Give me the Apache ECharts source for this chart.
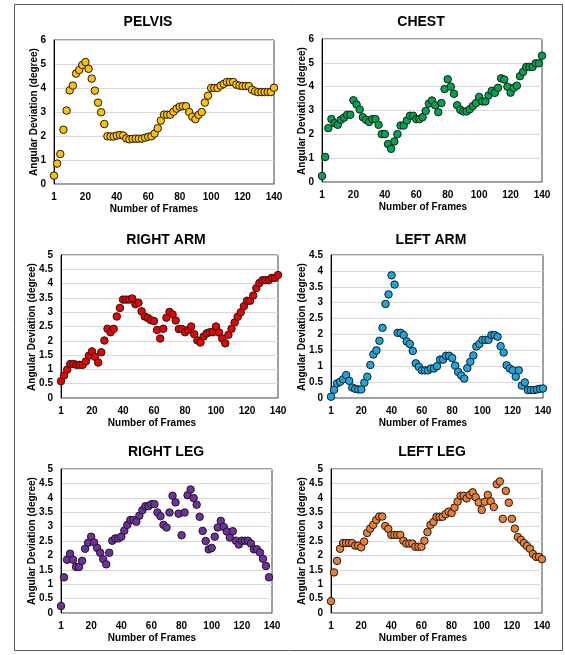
<!DOCTYPE html>
<html>
<head>
<meta charset="utf-8">
<script src="https://cdn.jsdelivr.net/npm/echarts@6/dist/echarts.min.js"></script>
<style>
  html, body { margin: 0; padding: 0; background: #fff; }
  #chart { width: 565px; height: 655px; }
</style>
</head>
<body>
<div id="chart"></div>
<script>
// Frame numbers sampled every second frame (axis origin is labelled "1")
const frames = [0,2,4,6,8,10,12,14,16,18,20,22,24,26,28,30,32,34,36,38,40,42,44,46,48,50,52,54,56,58,60,62,64,66,68,70,72,74,76,78,80,82,84,86,88,90,92,94,96,98,100,102,104,106,108,110,112,114,116,118,120,122,124,126,128,130,132,134,136,138,140];
const xTicks = [0, 20, 40, 60, 80, 100, 120, 140];

// Angular deviation (degree) per body segment
const pelvis = [0.35,0.85,1.25,2.26,3.06,3.9,4.1,4.6,4.75,4.96,5.08,4.8,4.39,3.89,3.39,2.99,2.5,1.99,1.98,1.98,2.02,2.04,2.02,1.9,1.86,1.88,1.89,1.89,1.89,1.93,1.97,1.99,2.1,2.32,2.64,2.89,2.89,2.89,3.01,3.14,3.22,3.24,3.24,3.0,2.8,2.7,2.88,3.0,3.39,3.68,4.0,4.0,4.0,4.1,4.17,4.25,4.25,4.25,4.14,4.1,4.08,4.08,4.08,3.93,3.86,3.83,3.83,3.83,3.83,3.83,4.01];
const chest = [0.25,1.05,2.26,2.64,2.47,2.4,2.61,2.7,2.82,2.82,3.43,3.25,3.04,2.72,2.61,2.52,2.64,2.64,2.4,2.01,2.01,1.59,1.39,1.7,2.01,2.37,2.37,2.58,2.78,2.78,2.64,2.64,2.72,2.98,3.29,3.42,3.22,2.93,3.31,3.9,4.31,4.0,3.7,3.22,3.03,2.96,2.96,3.05,3.19,3.31,3.57,3.38,3.38,3.63,3.82,3.74,3.95,4.35,4.3,4.0,3.75,3.95,4.04,4.44,4.62,4.83,4.83,4.83,4.98,4.98,5.3];
const rightArm = [0.59,0.79,0.99,1.19,1.19,1.16,1.16,1.16,1.28,1.48,1.63,1.44,1.24,1.6,2.01,2.42,2.3,2.42,2.85,3.15,3.44,3.44,3.44,3.48,3.28,3.33,3.03,2.85,2.8,2.72,2.69,2.38,2.08,2.42,2.81,3.01,2.92,2.71,2.41,2.41,2.3,2.38,2.5,2.23,2.01,1.94,2.15,2.26,2.3,2.3,2.5,2.29,2.08,1.91,2.21,2.42,2.64,2.84,3.0,3.21,3.4,3.4,3.58,3.84,4.02,4.12,4.12,4.12,4.2,4.2,4.3];
const leftArm = [0.04,0.26,0.46,0.51,0.59,0.72,0.54,0.33,0.29,0.27,0.27,0.48,0.67,1.04,1.37,1.5,1.8,2.21,2.96,3.26,3.86,3.57,2.05,2.05,1.98,1.78,1.7,1.48,1.09,0.98,0.87,0.87,0.87,0.93,0.93,1.0,1.21,1.21,1.33,1.33,1.26,1.02,0.82,0.71,0.61,0.94,1.14,1.34,1.62,1.7,1.83,1.83,1.83,1.98,1.98,1.93,1.63,1.43,1.03,0.93,0.87,0.67,0.87,0.39,0.49,0.25,0.25,0.25,0.27,0.29,0.3];
const rightLeg = [0.24,1.24,1.85,2.06,1.85,1.6,1.6,1.81,2.23,2.44,2.65,2.45,2.26,2.09,1.87,1.69,2.09,2.51,2.59,2.59,2.65,2.86,3.06,3.23,3.23,3.17,3.38,3.57,3.71,3.71,3.78,3.78,3.49,3.36,3.06,2.97,3.49,4.07,3.84,3.45,2.7,3.49,4.09,4.29,3.99,3.76,3.34,2.85,2.5,2.21,2.26,2.65,2.97,3.2,2.99,2.83,2.62,2.84,2.51,2.38,2.51,2.51,2.51,2.41,2.21,2.21,2.1,1.88,1.63,1.24];
const leftLeg = [0.41,1.41,1.81,2.23,2.43,2.43,2.43,2.43,2.34,2.34,2.28,2.48,2.78,2.93,3.06,3.23,3.35,3.35,3.02,2.92,2.71,2.71,2.71,2.71,2.51,2.41,2.41,2.41,2.3,2.3,2.3,2.51,2.81,3.06,3.16,3.34,3.34,3.34,3.43,3.52,3.47,3.66,3.87,4.07,4.07,3.98,4.1,4.19,4.02,3.84,3.58,3.86,4.1,3.88,3.68,4.47,4.57,3.27,4.24,3.83,3.27,2.93,2.64,2.54,2.43,2.33,2.23,2.05,1.95,1.95,1.87];

const panelTitles = ['PELVIS', 'CHEST', 'RIGHT ARM', 'LEFT ARM', 'RIGHT LEG', 'LEFT LEG'];
const xTitle = 'Number of Frames';
const yTitle = 'Angular Deviation (degree)';

const FONT = '"Liberation Sans", Arial, sans-serif';

// Layout of each small multiple
const panels = [
  { name: panelTitles[0], values: pelvis,   color: '#FFC000', yMax: 6,   yStep: 1,
    grid: { left: 54,  top: 40,  width: 220, height: 144 }, title: [148, 22],  xt: [154, 209], yt: [34, 112] },
  { name: panelTitles[1], values: chest,    color: '#00A64F', yMax: 6,   yStep: 1,
    grid: { left: 322, top: 39,  width: 220, height: 143 }, title: [421, 22],  xt: [423, 207], yt: [302, 111] },
  { name: panelTitles[2], values: rightArm, color: '#EE0000', yMax: 5,   yStep: 0.5,
    grid: { left: 61,  top: 255, width: 217, height: 143 }, title: [166, 240], xt: [152, 423], yt: [32, 327] },
  { name: panelTitles[3], values: leftArm,  color: '#1AA7E0', yMax: 4.5, yStep: 0.5,
    grid: { left: 331, top: 255, width: 212, height: 143 }, title: [431, 240], xt: [423, 423], yt: [302, 327] },
  { name: panelTitles[4], values: rightLeg, color: '#7030A0', yMax: 5,   yStep: 0.5,
    grid: { left: 61,  top: 469, width: 211, height: 144 }, title: [166, 452], xt: [152, 638], yt: [32, 541] },
  { name: panelTitles[5], values: leftLeg,  color: '#ED7D31', yMax: 5,   yStep: 0.5,
    grid: { left: 331, top: 469, width: 211, height: 144 }, title: [432, 452], xt: [423, 638], yt: [302, 541] }
];

const grids = [], xAxes = [], yAxes = [], series = [];
const graphics = [{
  type: 'rect', z: 0, silent: true,
  shape: { x: 14.5, y: 4.5, width: 548, height: 646 },
  style: { fill: null, stroke: '#595959', lineWidth: 1 }
}];

panels.forEach((p, i) => {
  grids.push(Object.assign({ show: true, borderColor: '#404040', borderWidth: 1, backgroundColor: '#fff' }, p.grid));
  xAxes.push({
    type: 'value', gridIndex: i, min: 0, max: 140, interval: 20,
    axisLine: { show: true, onZero: false, lineStyle: { color: '#a6a6a6', width: 1 } },
    axisTick: { show: false },
    splitLine: { show: false },
    axisLabel: {
      margin: 8, color: '#000', fontFamily: FONT, fontWeight: 'bold', fontSize: 10,
      formatter: v => (v === 0 ? '1' : String(v))
    }
  });
  yAxes.push({
    type: 'value', gridIndex: i, min: 0, max: p.yMax, interval: p.yStep,
    axisLine: { show: true, lineStyle: { color: '#000', width: 1 } },
    axisTick: { show: false },
    splitLine: { show: true, lineStyle: { color: '#d9d9d9', width: 1 } },
    axisLabel: { margin: 8, color: '#000', fontFamily: FONT, fontWeight: 'bold', fontSize: 10 }
  });
  series.push({
    type: 'scatter', xAxisIndex: i, yAxisIndex: i,
    symbol: 'circle', symbolSize: 7.5,
    itemStyle: { color: p.color, borderColor: '#1a1a1a', borderWidth: 1, opacity: 1 },
    data: p.values.map((v, k) => [frames[k], v]),
    z: 3
  });
  graphics.push({
    type: 'text', x: p.title[0], y: p.title[1],
    style: { text: p.name, textAlign: 'center', textVerticalAlign: 'middle',
             font: 'bold 14px ' + FONT, fill: '#000' }
  });
  graphics.push({
    type: 'text', x: p.xt[0], y: p.xt[1],
    style: { text: xTitle, textAlign: 'center', textVerticalAlign: 'middle',
             font: 'bold 10px ' + FONT, fill: '#000' }
  });
  graphics.push({
    type: 'text', x: p.yt[0], y: p.yt[1], rotation: Math.PI / 2,
    style: { text: yTitle, textAlign: 'center', textVerticalAlign: 'middle',
             font: 'bold 10px ' + FONT, fill: '#000' }
  });
});

const chart = echarts.init(document.getElementById('chart'), null, { renderer: 'canvas' });
chart.setOption({
  animation: false,
  backgroundColor: '#fff',
  grid: grids,
  xAxis: xAxes,
  yAxis: yAxes,
  series: series,
  graphic: graphics
});
</script>
</body>
</html>
